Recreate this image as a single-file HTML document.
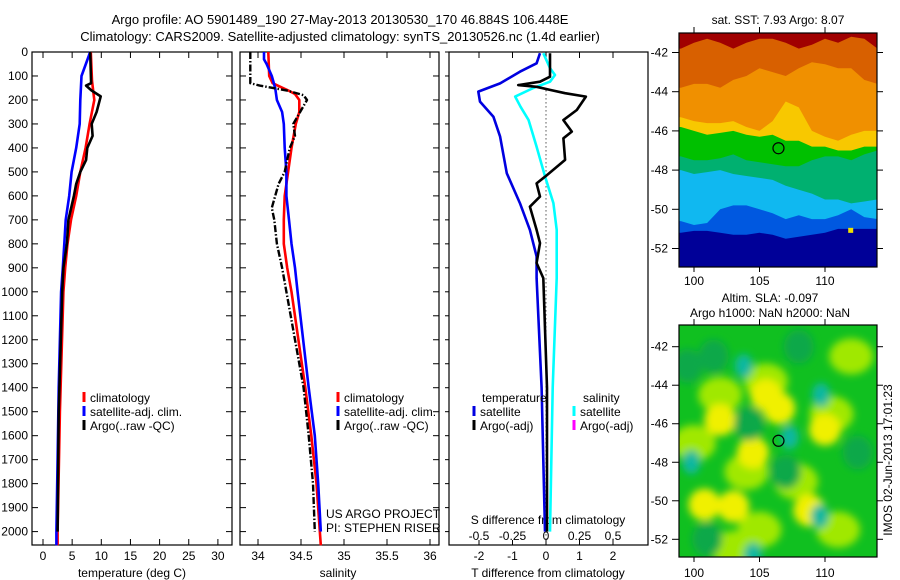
<!DOCTYPE html>
<html><head><meta charset="utf-8"><style>
html,body{margin:0;padding:0;background:#fff;}
svg{display:block;font-family:"Liberation Sans",sans-serif;}
text{font-size:12px;fill:#000;}
</style></head><body>
<svg id="fig" width="900" height="580" viewBox="0 0 900 580">
<defs>
<filter id="blur" x="-20%" y="-20%" width="140%" height="140%"><feGaussianBlur stdDeviation="4"/></filter>
<clipPath id="clipTop"><rect x="679" y="33" width="198" height="234"/></clipPath>
<clipPath id="clipBot"><rect x="679" y="325" width="198" height="232"/></clipPath>
</defs>
<text x="340" y="24" text-anchor="middle" style="font-size:13px">Argo profile: AO 5901489_190 27-May-2013 20130530_170 46.884S 106.448E</text>
<text x="340" y="41" text-anchor="middle" style="font-size:13px">Climatology: CARS2009. Satellite-adjusted climatology: synTS_20130526.nc (1.4d earlier)</text>
<g id="g"></g>
</svg>
<script>
// ---- data ----
const tempDepth = [0,100,200,300,400,500,600,700,800,900,1000,1400,1700,2000,2057];
const tempSat   = [8.1,6.6,6.4,6.3,5.7,4.9,4.5,3.9,3.65,3.4,3.1,2.7,2.5,2.3,2.3];
const tempClimDepth = [0,120,200,300,400,500,600,700,800,900,1000,1500,2000,2057];
const tempClim  = [8.2,8.4,8.8,8.0,7.3,6.4,5.7,4.8,4.2,3.8,3.5,2.9,2.5,2.5];
const tempArgoDepth = [0,130,140,160,185,250,300,350,400,450,500,550,600,700,800,900,1000,1500,2000];
const tempArgo  = [8.1,8.25,7.4,8.3,9.9,9.2,8.35,8.5,7.6,7.4,6.4,5.7,5.3,4.35,4.1,3.5,3.3,2.7,2.5];

const salSatDepth = [0,30,50,100,150,200,250,300,400,500,600,700,800,900,1000,1400,1600,1800,2000];
const salSat  = [34.07,34.07,34.10,34.16,34.20,34.22,34.28,34.30,34.31,34.33,34.33,34.36,34.39,34.43,34.46,34.59,34.66,34.70,34.73];
const salClimDepth = [0,100,130,160,175,200,250,300,400,500,600,700,800,900,1000,1400,1600,1800,2057];
const salClim = [34.12,34.13,34.17,34.35,34.43,34.48,34.48,34.44,34.39,34.35,34.31,34.30,34.30,34.34,34.39,34.55,34.62,34.68,34.73];
const salArgoDepth = [0,130,140,160,180,200,250,300,350,400,500,550,650,700,800,900,1000,1400,1600,1800,2000];
const salArgo = [33.91,33.91,34.02,34.33,34.53,34.57,34.49,34.41,34.43,34.37,34.31,34.24,34.16,34.19,34.22,34.28,34.33,34.53,34.59,34.64,34.66];

const dTSatDepth = [5,47,82,131,165,207,270,353,506,630,742,853,943,1400,2000];
const dTSat = [-0.18,-0.28,-0.78,-1.37,-2.02,-1.97,-1.57,-1.37,-1.17,-0.78,-0.48,-0.28,-0.28,-0.13,-0.03];
const dSSatDepth = [5,67,96,124,150,186,228,284,395,520,630,742,943,1400,2000];
const dSSat = [-0.02,0.03,0.067,0.03,-0.095,-0.23,-0.19,-0.13,-0.07,-0.007,0.055,0.08,0.08,0.05,0.03];
const dTArgoDepth = [5,103,124,138,145,158,172,186,242,284,332,360,450,520,548,603,645,742,797,880,943,1400,2000];
const dTArgo = [0.12,0.12,-0.18,-0.83,-0.28,0.12,0.57,1.19,0.92,0.52,0.77,0.52,0.57,-0.03,-0.28,-0.18,-0.48,-0.28,-0.18,-0.28,-0.08,0.03,0.03];

const depthTicks = [0,100,200,300,400,500,600,700,800,900,1000,1100,1200,1300,1400,1500,1600,1700,1800,1900,2000];
const tempTicks = [0,5,10,15,20,25,30];
const salTicks = [34,34.5,35,35.5,36];
const salTickLabels = ["34","34.5","35","35.5","36"];
const dTTicks = [-2,-1,0,1,2];
const dSTicks = [-0.5,-0.25,0,0.25,0.5];
const dSTickLabels = ["-0.5","-0.25","0","0.25","0.5"];

const mapLons = [98.7,99,100,101,102,103,104,105,106,107,108,109,110,111,112,113,114,114.1];
const sstBands = [
 {c:"#a00000", b:[-40.9,-40.9,-40.9,-40.9,-40.9,-40.9,-40.9,-40.9,-40.9,-40.9,-40.9,-40.9,-40.9,-40.9,-40.9,-40.9,-40.9,-40.9]},
 {c:"#d86000", b:[-41.8,-41.8,-41.5,-41.3,-41.5,-41.8,-41.5,-41.3,-41.3,-41.5,-41.8,-41.6,-41.3,-41.5,-41.2,-41.3,-41.8,-41.8]},
 {c:"#f09000", b:[-43.8,-43.8,-43.6,-43.6,-43.8,-43.4,-43.2,-42.8,-43.0,-43.2,-42.8,-42.5,-42.6,-42.8,-42.8,-43.4,-43.6,-43.6]},
 {c:"#f8c800", b:[-45.3,-45.3,-45.5,-45.6,-45.6,-45.5,-45.8,-46.0,-45.5,-44.5,-44.8,-46.0,-46.3,-46.5,-46.2,-46.0,-46.0,-46.0]},
 {c:"#00c000", b:[-45.8,-45.8,-46.0,-46.2,-46.1,-46.0,-46.2,-46.3,-46.2,-46.5,-46.5,-46.8,-46.8,-47.0,-47.0,-46.8,-46.8,-46.8]},
 {c:"#00b070", b:[-47.3,-47.3,-47.5,-47.5,-47.4,-47.2,-47.5,-47.6,-47.7,-47.8,-47.8,-47.5,-47.3,-47.3,-47.5,-47.2,-47.0,-47.0]},
 {c:"#10b8f0", b:[-48.0,-48.0,-48.2,-48.1,-48.0,-48.2,-48.3,-48.4,-48.5,-48.8,-49.0,-49.2,-49.5,-49.5,-49.7,-49.6,-49.5,-49.5]},
 {c:"#0058e0", b:[-50.6,-50.6,-50.8,-50.7,-50.0,-49.8,-49.8,-50.0,-50.2,-50.5,-50.3,-50.5,-50.5,-50.3,-50.0,-50.4,-50.5,-50.5]},
 {c:"#000098", b:[-51.2,-51.2,-51.1,-51.1,-51.2,-51.3,-51.3,-51.2,-51.3,-51.5,-51.4,-51.3,-51.2,-51.0,-51.0,-51.0,-51.0,-51.0]}
];
const slaBlobLon = [105.5,102,110.5,104,107.8,112,100,111,105,103,
                    102,105.5,106.5,110,100.8,104.5,108.8,103,
                    103.8,107.3,109.7,109.6,99.8,104.5,
                    101.5,107,99.5,104.2,112.5,108,101];
const slaBlobLat = [-43.8,-44.5,-45.5,-48.5,-49,-42.5,-47,-51.5,-51.5,-52.5,
                    -45.8,-44.5,-45.2,-46.3,-50.2,-47.5,-50.5,-50.3,
                    -43,-46.7,-44.5,-50.8,-48,-52.8,
                    -42.5,-48.5,-43,-46,-47.5,-42,-52];
const slaBlobKind = ["lg","lg","lg","lg","lg","lg","lg","lg","lg","lg",
                     "y","y","y","y","y","y","y","y",
                     "t","t","t","t","t","t",
                     "dg","dg","dg","dg","dg","dg","dg"];
const argoLon = 106.448, argoLat = -46.884;

// ---- helpers ----
const NS="http://www.w3.org/2000/svg";
const G=document.getElementById('g');
function el(tag,attrs,parent){const e=document.createElementNS(NS,tag);for(const k in attrs)e.setAttribute(k,attrs[k]);(parent||G).appendChild(e);return e;}
function txt(x,y,s,anchor,parent,size){const t=el('text',{x:x,y:y,'text-anchor':anchor||'start'},parent);if(size)t.style.fontSize=size+'px';t.textContent=s;return t;}

const TOP=52, BOT=545;
const yD = d => TOP + d*0.2398;
const P1={l:32,r:232}, P2={l:240,r:439}, P3={l:449,r:648};
const xT = v => 43 + v*5.83;
const xS = v => 258 + (v-34)*86;
const xDT = v => 546 + v*33.5;
const xDS = v => 546 + v*134;

function axesBox(P,name){
  const r=el('rect',{x:P.l,y:TOP,width:P.r-P.l,height:BOT-TOP,fill:'none',stroke:'#000','stroke-width':1.2});
  
  
  depthTicks.forEach(d=>{
    el('line',{x1:P.l,x2:P.l+6,y1:yD(d),y2:yD(d),stroke:'#000'});
    el('line',{x1:P.r-6,x2:P.r,y1:yD(d),y2:yD(d),stroke:'#000'});
  });
}
function xTicks(P,vals,fx,labels,ly,name){
  vals.forEach((v,i)=>{
    const x=fx(v);
    el('line',{x1:x,x2:x,y1:BOT,y2:BOT-6,stroke:'#000'});
    el('line',{x1:x,x2:x,y1:TOP,y2:TOP+6,stroke:'#000'});
    if(labels){const t=txt(x,ly,labels[i],'middle');
      
      }
  });
}
function series(xs,ds,fx,color,name,dash,w){
  const pts=xs.map((v,i)=>fx(v).toFixed(1)+','+yD(ds[i]).toFixed(1)).join(' ');
  const a={points:pts,fill:'none',stroke:color,'stroke-width':w||2.6,'stroke-linejoin':'round'};
  if(dash)a['stroke-dasharray']=dash;
  const p=el('polyline',a);
  
  
}
function legend(x,y,color,label,name){
  el('line',{x1:x,x2:x,y1:y-10,y2:y,stroke:color,'stroke-width':3});
  const t=txt(x+6,y,label,'start');
  
  
}

// ---- panel 1: temperature ----
axesBox(P1,'temperature-axes');
depthTicks.forEach(d=>{const t=txt(28,yD(d)+4,String(d),'end');
  
  });
xTicks(P1,tempTicks,xT,tempTicks.map(String),560,'temperature-tick-label');
let t1=txt(132,577,'temperature (deg C)','middle');


series(tempClim,tempClimDepth,xT,'#ff0000','temp-climatology-line');
series(tempSat,tempDepth,xT,'#0000ff','temp-satellite-line');
series(tempArgo,tempArgoDepth,xT,'#000000','temp-argo-line');
legend(84,402,'#ff0000','climatology','legend-climatology');
legend(84,416,'#0000ff','satellite-adj. clim.','legend-satellite');
legend(84,430,'#000000','Argo(..raw -QC)','legend-argo');

// ---- panel 2: salinity ----
axesBox(P2,'salinity-axes');
xTicks(P2,salTicks,xS,salTickLabels,560,'salinity-tick-label');
let t2=txt(338,577,'salinity','middle');


series(salClim,salClimDepth,xS,'#ff0000','sal-climatology-line');
series(salSat,salSatDepth,xS,'#0000ff','sal-satellite-line');
series(salArgo,salArgoDepth,xS,'#000000','sal-argo-line','7,2,1.5,2',2.4);
legend(338,402,'#ff0000','climatology','legend-climatology');
legend(338,416,'#0000ff','satellite-adj. clim.','legend-satellite');
legend(338,430,'#000000','Argo(..raw -QC)','legend-argo');
let u1=txt(326,518,'US ARGO PROJECT','start');


let u2=txt(326,532,'PI: STEPHEN RISER','start');



// ---- panel 3: differences ----
const r3=el('rect',{x:P3.l,y:TOP,width:P3.r-P3.l,height:BOT-TOP,fill:'none',stroke:'#000','stroke-width':1.2});


depthTicks.forEach(d=>{el('line',{x1:P3.l-4,x2:P3.l,y1:yD(d),y2:yD(d),stroke:'#000'});});
dSTicks.forEach(v=>{el('line',{x1:xDS(v),x2:xDS(v),y1:TOP,y2:TOP+6,stroke:'#000'});});
dTTicks.forEach(v=>{el('line',{x1:xDT(v),x2:xDT(v),y1:BOT,y2:BOT-5,stroke:'#000'});});
dTTicks.forEach(v=>{const t=txt(xDT(v),560,String(v),'middle');
  
  });
dSTicks.forEach((v,i)=>{const t=txt(xDS(v),540,dSTickLabels[i],'middle');
  
  });
let t3=txt(548,577,'T difference from climatology','middle');


let t4=txt(548,524,'S difference from climatology','middle');


const zl=el('line',{x1:xDT(0),x2:xDT(0),y1:yD(160),y2:BOT,stroke:'#000','stroke-dasharray':'1,3'});


series(dSSat,dSSatDepth,xDS,'#00ffff','s-diff-satellite-line');
series(dTSat,dTSatDepth,xDT,'#0000e0','t-diff-satellite-line');
series(dTArgo,dTArgoDepth,xDT,'#000000','t-diff-argo-line');
let lt=txt(482,402,'temperature','start');


let ls=txt(583,402,'salinity','start');


legend(474,416,'#0000e0','satellite','legend-t-satellite');
legend(474,430,'#000000','Argo(-adj)','legend-t-argo');
legend(574,416,'#00ffff','satellite','legend-s-satellite');
legend(574,430,'#ff00ff','Argo(-adj)','legend-s-argo');

// ---- maps ----
const lonX = lon => 694 + (lon-100)*13.1;
const latY1 = lat => 52.5 + (-42-lat)*19.6;
const latY2 = lat => 346.7 + (-42-lat)*19.26;
const mapLatTicks=[-42,-44,-46,-48,-50,-52], mapLonTicks=[100,105,110];

function mapFrame(y0,h,fy,name){
  mapLatTicks.forEach(l=>{
    const y=fy(l);
    el('line',{x1:672,x2:679,y1:y,y2:y,stroke:'#000'});
    el('line',{x1:877,x2:883,y1:y,y2:y,stroke:'#000'});
    const t=txt(668,y+4,String(l),'end');
    
    
  });
  mapLonTicks.forEach(l=>{
    const x=lonX(l);
    el('line',{x1:x,x2:x,y1:y0-6,y2:y0,stroke:'#000'});
    el('line',{x1:x,x2:x,y1:y0+h,y2:y0+h+5,stroke:'#000'});
  });
  const r=el('rect',{x:679,y:y0,width:198,height:h,fill:'none',stroke:'#000','stroke-width':1.2});
  
  
}
// SST map
const gTop=el('g',{'clip-path':'url(#clipTop)'});


el('rect',{x:679,y:33,width:198,height:234,fill:'#000098'},gTop);
sstBands.forEach((band)=>{
  const pts=mapLons.map((lo,j)=>lonX(lo).toFixed(1)+','+latY1(band.b[j]).toFixed(1));
  const p=el('polygon',{points:pts.join(' ')+' 880,270 676,270',fill:band.c},gTop);
  
  
});
el('rect',{x:lonX(112)-3,y:latY1(-51.1)-3,width:5,height:5,fill:'#f0e000'},gTop);
const c1=el('circle',{cx:lonX(argoLon),cy:latY1(argoLat),r:5.5,fill:'none',stroke:'#000','stroke-width':1.2});


mapFrame(33,234,latY1,'sst-map-frame');
mapLonTicks.forEach(l=>{const t=txt(lonX(l),285,String(l),'middle');
  
  });
let mt=txt(778,24,'sat. SST: 7.93 Argo: 8.07','middle');



// SLA map
const gBot=el('g',{'clip-path':'url(#clipBot)'});


el('rect',{x:679,y:325,width:198,height:232,fill:'#10c020'},gBot);
const gBlur=el('g',{filter:'url(#blur)'},gBot);
const kindCol={y:'#f0f000',lg:'#a0e800',t:'#10b8a0',dg:'#08a848'};
const kindR={y:[16,16],lg:[22,18],t:[9,12],dg:[15,17]};
slaBlobLon.forEach((lo,i)=>{
  const k=slaBlobKind[i];
  const e=el('ellipse',{cx:lonX(lo),cy:latY2(slaBlobLat[i]),rx:kindR[k][0],ry:kindR[k][1],fill:kindCol[k]},gBlur);
  
  
});
const c2=el('circle',{cx:lonX(argoLon),cy:latY2(argoLat),r:5.5,fill:'none',stroke:'#000','stroke-width':1.2});


mapFrame(325,232,latY2,'sla-map-frame');
mapLonTicks.forEach(l=>{const t=txt(lonX(l),577,String(l),'middle');
  
  });
let m2=txt(770,302,'Altim. SLA: -0.097','middle');


let m3=txt(770,317,'Argo h1000: NaN h2000: NaN','middle');


let im=txt(0,0,'IMOS 02-Jun-2013 17:01:23','middle');
im.setAttribute('transform','translate(892,460) rotate(-90)');


</script>
</body></html>
